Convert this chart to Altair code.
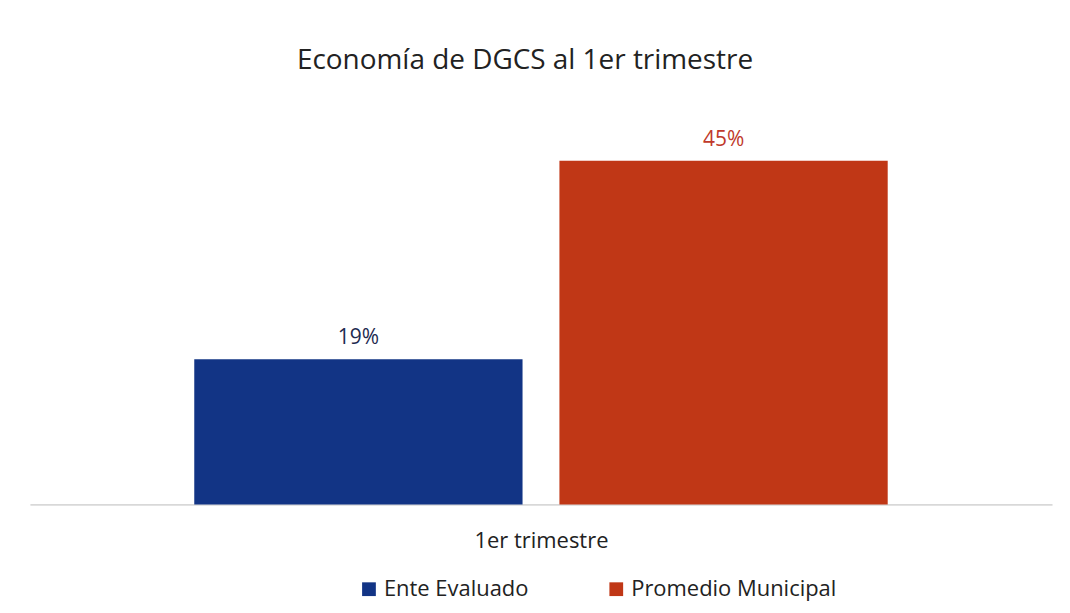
import altair as alt
import pandas as pd

series = ["Ente Evaluado", "Promedio Municipal"]
values = [0.19, 0.45]
labels = ["19%", "45%"]
colors = ["#123485", "#c03716"]
label_colors = ["#1d2a4f", "#c0392b"]
period = "1er trimestre"

df = pd.DataFrame({"serie": series, "valor": values, "etiqueta": labels, "lc": label_colors})

FONT = "Open Sans"

x = alt.X("serie:N", sort=series,
          scale=alt.Scale(paddingInner=0.101, paddingOuter=0.45),
          axis=alt.Axis(labels=False, ticks=False, title=period, titleFontSize=22,
                        titleFont=FONT, titleFontWeight="normal", titleColor="#222",
                        titlePadding=26, domainColor="#bbbbbb", domainWidth=1))
y = alt.Y("valor:Q", scale=alt.Scale(domain=[0, 0.5]), axis=None)

bars = alt.Chart(df).mark_bar().encode(
    x=x, y=y,
    color=alt.Color("serie:N", sort=series,
                    scale=alt.Scale(domain=series, range=colors),
                    legend=alt.Legend(title=None, orient="none", direction="horizontal",
                                      legendX=329, legendY=457,
                                      symbolType="square", symbolSize=190,
                                      labelFontSize=22, labelFont=FONT, labelColor="#222",
                                      labelLimit=400, columnPadding=76,
                                      symbolStrokeWidth=0))
)

text = alt.Chart(df).mark_text(dy=-21, fontSize=21, font=FONT).encode(
    x=alt.X("serie:N", sort=series),
    y=y,
    text="etiqueta:N",
    color=alt.Color("lc:N", scale=None)
)

chart = (bars + text).properties(
    width=1025, height=383,
    background="white",
    title=alt.TitleParams("Economía de DGCS al 1er trimestre", fontSize=28, font=FONT,
                          fontWeight="normal", color="#222", offset=48, dx=-16),
    padding={"left": 22, "top": 38, "right": 10, "bottom": 5}
).configure_view(stroke=None, strokeWidth=0)

chart.save("out.html", embed_options={"renderer": "svg", "actions": False})
